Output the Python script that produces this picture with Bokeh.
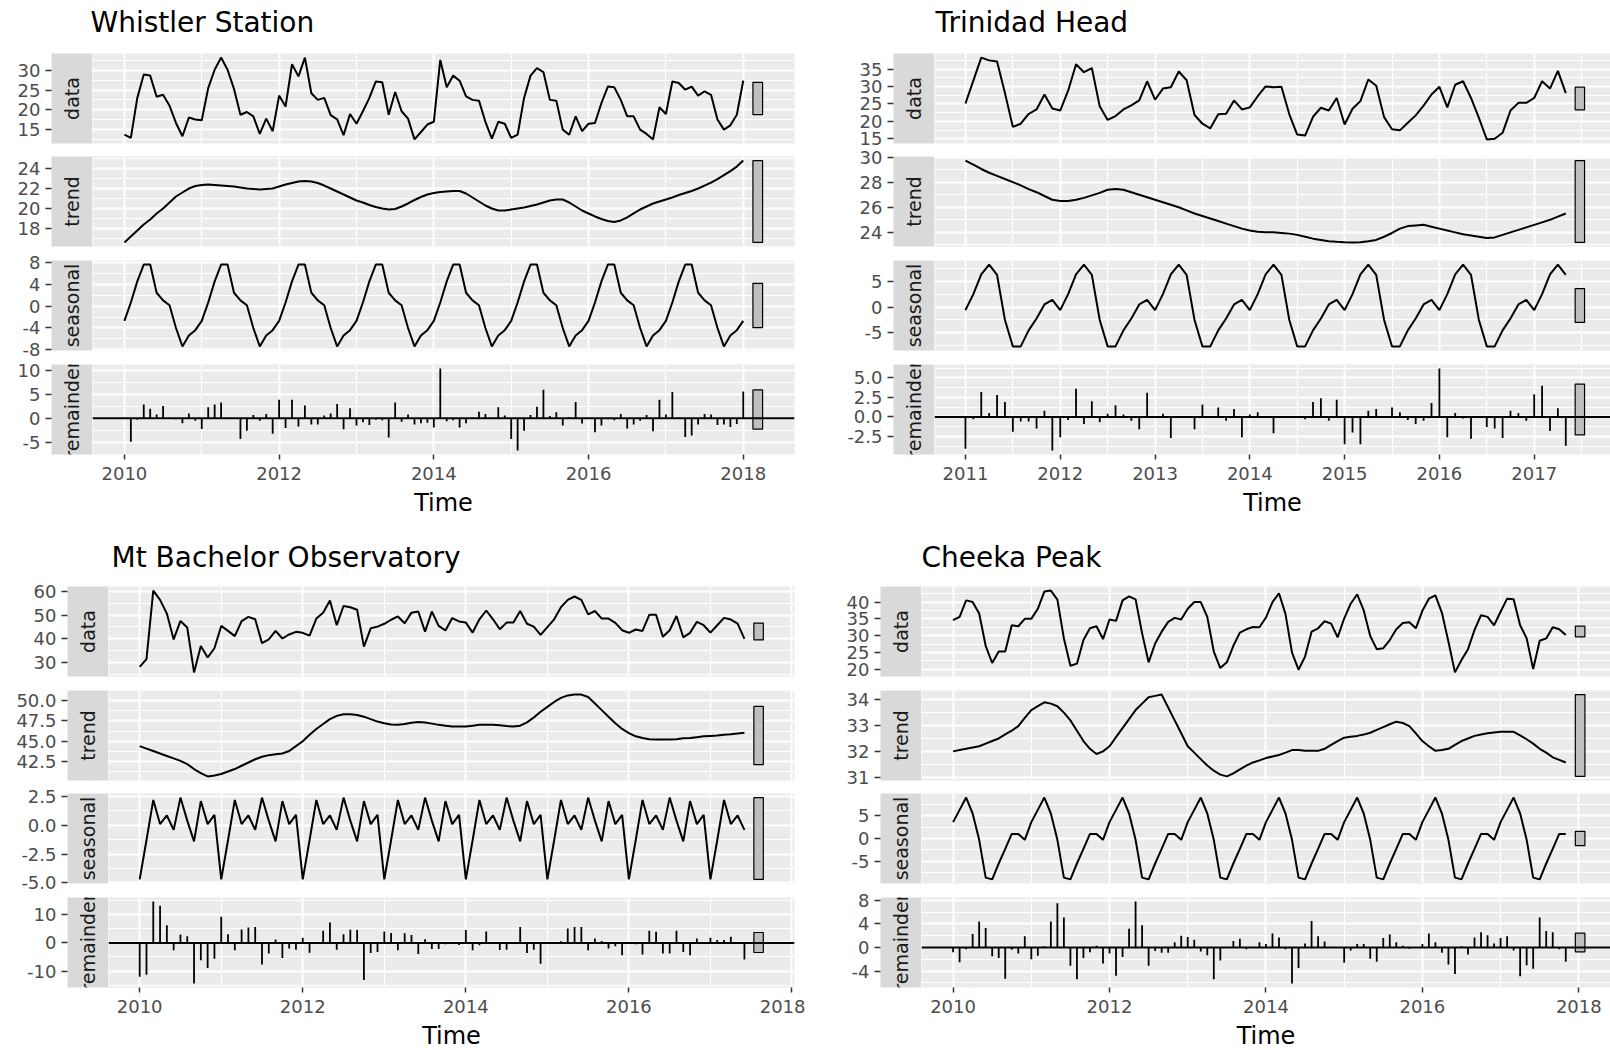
import numpy as np
from math import pi
from bokeh.plotting import figure
from bokeh.layouts import row, column
from bokeh.models import Range1d, FixedTicker, Grid, Span, PrintfTickFormatter
from bokeh.core.properties import value
from bokeh.embed import file_html
from bokeh.resources import INLINE

FONT = "DejaVu Sans"
PANEL_BG = "#EBEBEB"
STRIP_BG = "#D9D9D9"
COMPONENTS = ["data", "trend", "seasonal", "remainder"]

# ---------------- Whistler Station (monthly, Jan 2010 - Jan 2018) ----------------
whistler_start = 2010.0
whistler_data = [
    13.6, 12.8, 23.0, 29.0, 28.7, 23.3, 23.8, 21.0, 16.6, 13.2, 18.0, 17.5,
    17.3, 25.5, 30.2, 33.3, 30.2, 25.3, 18.7, 19.4, 18.3, 13.8, 17.7, 14.5,
    23.6, 20.8, 31.6, 28.5, 33.3, 24.2, 22.5, 23.0, 18.6, 17.5, 13.5, 18.9,
    16.4, 19.6, 23.0, 27.2, 27.0, 18.7, 24.5, 19.6, 17.7, 12.4, 14.3, 16.2,
    16.9, 32.7, 25.7, 28.7, 27.4, 23.4, 22.5, 22.3, 16.9, 12.6, 16.9, 16.4,
    12.8, 13.6, 23.0, 28.7, 30.6, 29.6, 22.5, 22.3, 14.9, 13.6, 18.3, 14.5,
    16.4, 16.6, 21.7, 25.9, 25.7, 22.5, 18.3, 18.3, 14.9, 13.8, 12.4, 20.6,
    18.9, 27.2, 26.8, 25.1, 25.9, 23.6, 24.7, 23.8, 17.5, 14.9, 16.0, 18.7,
    27.4]
whistler_trend = [
    16.6, 17.2, 17.8, 18.4, 18.9, 19.5, 20.0, 20.6, 21.2, 21.6, 22.0, 22.25,
    22.35, 22.4, 22.35, 22.3, 22.25, 22.2, 22.1, 22.0, 21.95, 21.9, 21.95, 22.0,
    22.2, 22.4, 22.55, 22.7, 22.75, 22.7, 22.55, 22.3, 22.0, 21.7, 21.4, 21.1,
    20.8, 20.6, 20.35, 20.15, 20.0, 19.9, 19.95, 20.2, 20.5, 20.85, 21.15, 21.4,
    21.55, 21.65, 21.7, 21.75, 21.75, 21.5, 21.1, 20.7, 20.3, 20.0, 19.8, 19.8,
    19.9, 20.0, 20.1, 20.25, 20.4, 20.6, 20.8, 20.9, 20.9, 20.6, 20.2, 19.8,
    19.5, 19.2, 18.95, 18.75, 18.65, 18.8, 19.1, 19.5, 19.9, 20.2, 20.5, 20.7,
    20.9, 21.1, 21.35, 21.55, 21.75, 22.0, 22.3, 22.6, 22.95, 23.35, 23.75, 24.2,
    24.8]
whistler_seasonal = [
    -2.7, 0.7, 4.6, 7.7, 7.7, 2.5, 1.1, 0.2, -4.0, -7.4, -5.4, -4.4,
    -2.7, 0.7, 4.6, 7.7, 7.7, 2.5, 1.1, 0.2, -4.0, -7.4, -5.4, -4.4,
    -2.7, 0.7, 4.6, 7.7, 7.7, 2.5, 1.1, 0.2, -4.0, -7.4, -5.4, -4.4,
    -2.7, 0.7, 4.6, 7.7, 7.7, 2.5, 1.1, 0.2, -4.0, -7.4, -5.4, -4.4,
    -2.7, 0.7, 4.6, 7.7, 7.7, 2.5, 1.1, 0.2, -4.0, -7.4, -5.4, -4.4,
    -2.7, 0.7, 4.6, 7.7, 7.7, 2.5, 1.1, 0.2, -4.0, -7.4, -5.4, -4.4,
    -2.7, 0.7, 4.6, 7.7, 7.7, 2.5, 1.1, 0.2, -4.0, -7.4, -5.4, -4.4,
    -2.7, 0.7, 4.6, 7.7, 7.7, 2.5, 1.1, 0.2, -4.0, -7.4, -5.4, -4.4,
    -2.7]
whistler_remainder = [
    0.1, -4.9, -0.3, 2.9, 2.0, 0.8, 2.6, 0.1, -0.2, -1.0, 1.0, -0.5,
    -2.2, 2.3, 2.9, 3.3, 0.1, 0.0, -4.3, -2.6, 0.7, -0.5, 0.9, -3.2,
    3.9, -2.0, 3.9, -1.7, 2.7, -1.3, -1.3, 0.6, 1.0, 3.0, -2.3, 2.1,
    -1.5, -0.8, -1.4, -0.3, -0.4, -4.0, 3.3, -0.7, 0.8, -1.3, -1.0, -0.9,
    -1.9, 10.4, -0.6, -0.4, -1.9, -1.0, 0.2, 1.4, 0.9, 0.1, 2.3, 0.6,
    -4.3, -6.7, -2.6, 0.7, 2.4, 6.0, 0.5, 1.3, -1.5, 0.3, 3.4, -1.1,
    0.1, -2.9, -1.5, -0.2, -0.4, 0.9, -2.1, -1.3, -0.5, 0.7, -2.7, 3.9,
    0.8, 5.5, 0.2, -3.9, -3.6, -1.3, 0.9, 0.8, -1.4, -1.3, -1.8, -1.2,
    5.6]
whistler_yticks = [[15, 20, 25, 30], [18, 20, 22, 24], [-8, -4, 0, 4, 8], [-5, 0, 5, 10]]
whistler_yfmt = ["%d", "%d", "%d", "%d"]
whistler_xticks = [2010, 2012, 2014, 2016, 2018]

# ---------------- Trinidad Head (monthly, Jan 2011 - May 2017) ----------------
trinidad_start = 2011.0
trinidad_data = [
    25.1, 31.7, 38.3, 37.5, 37.2, 28.1, 18.4, 19.3, 22.1, 23.4, 27.7, 23.7,
    23.1, 28.8, 36.4, 34.1, 35.3, 24.3, 20.4, 21.5, 23.4, 24.6, 26.0, 31.5,
    26.2, 29.4, 29.8, 34.3, 31.8, 21.8, 19.3, 18.0, 22.0, 22.2, 26.0, 23.4,
    24.0, 27.2, 30.0, 29.8, 29.9, 22.0, 16.2, 15.9, 21.3, 23.9, 23.1, 26.7,
    19.1, 23.6, 25.8, 32.0, 30.2, 21.2, 17.7, 17.4, 19.6, 21.7, 24.5, 27.7,
    29.9, 24.0, 30.5, 31.5, 26.7, 21.0, 14.8, 15.0, 16.7, 23.1, 25.3, 25.3,
    26.7, 31.5, 29.4, 34.5, 28.1]
trinidad_trend = [
    29.72, 29.4, 29.05, 28.75, 28.5, 28.25, 28.0, 27.75, 27.45, 27.2, 26.9, 26.6,
    26.5, 26.5, 26.6, 26.75, 26.95, 27.15, 27.4, 27.45, 27.4, 27.2, 27.0, 26.8,
    26.6, 26.4, 26.2, 26.0, 25.75, 25.5, 25.3, 25.1, 24.9, 24.7, 24.5, 24.3,
    24.15, 24.05, 24.0, 24.0, 23.95, 23.9, 23.8, 23.65, 23.5, 23.4, 23.3, 23.25,
    23.22, 23.2, 23.22, 23.3, 23.4, 23.65, 23.95, 24.3, 24.5, 24.55, 24.6, 24.45,
    24.3, 24.15, 24.0, 23.85, 23.75, 23.65, 23.55, 23.6, 23.8, 24.0, 24.2, 24.4,
    24.6, 24.8, 25.0, 25.25, 25.5]
trinidad_seasonal = [
    -0.6, 2.5, 6.3, 8.2, 6.2, -2.5, -7.6, -7.6, -4.5, -2.2, 0.5, 1.4,
    -0.6, 2.5, 6.3, 8.2, 6.2, -2.5, -7.6, -7.6, -4.5, -2.2, 0.5, 1.4,
    -0.6, 2.5, 6.3, 8.2, 6.2, -2.5, -7.6, -7.6, -4.5, -2.2, 0.5, 1.4,
    -0.6, 2.5, 6.3, 8.2, 6.2, -2.5, -7.6, -7.6, -4.5, -2.2, 0.5, 1.4,
    -0.6, 2.5, 6.3, 8.2, 6.2, -2.5, -7.6, -7.6, -4.5, -2.2, 0.5, 1.4,
    -0.6, 2.5, 6.3, 8.2, 6.2, -2.5, -7.6, -7.6, -4.5, -2.2, 0.5, 1.4,
    -0.6, 2.5, 6.3, 8.2, 6.2]
trinidad_remainder = [
    -4.1, -0.3, 3.2, 0.5, 2.8, 1.9, -1.9, -0.6, -0.6, -1.5, 0.8, -4.3,
    -2.6, -0.4, 3.6, -0.9, 2.0, -0.7, 0.4, 1.5, 0.3, -0.5, -1.6, 3.1,
    0.0, 0.4, -2.7, 0.1, 0.0, -1.6, 1.6, 0.1, 1.2, -0.5, 1.0, -2.6,
    0.3, 0.6, 0.0, -2.1, 0.0, 0.0, 0.1, -0.3, 1.9, 2.4, -0.5, 2.2,
    -3.5, -2.0, -3.5, 0.8, 1.0, 0.0, 1.2, 0.6, -0.4, -0.9, -0.5, 1.8,
    6.2, -2.6, 0.5, -0.2, -2.8, 0.0, -1.3, -1.5, -2.7, 0.8, 0.5, -0.5,
    2.9, 4.0, -1.8, 1.1, -3.7]
trinidad_yticks = [[15, 20, 25, 30, 35], [24, 26, 28, 30], [-5, 0, 5], [-2.5, 0.0, 2.5, 5.0]]
trinidad_yfmt = ["%d", "%d", "%d", "%.1f"]
trinidad_xticks = [2011, 2012, 2013, 2014, 2015, 2016, 2017]

# ---------------- Mt Bachelor Observatory (monthly, Jan 2010 - Jun 2017) ----------------
bachelor_start = 2010.0
bachelor_data = [
    28.1, 31.4, 60.3, 56.4, 50.6, 39.7, 47.5, 44.7, 25.8, 36.9, 32.1, 36.0,
    45.4, 43.3, 41.1, 47.4, 49.2, 48.2, 38.1, 39.7, 43.3, 40.1, 41.8, 42.9,
    42.5, 41.3, 48.5, 51.0, 56.1, 45.7, 53.8, 53.3, 52.2, 36.7, 44.4, 45.1,
    46.3, 48.0, 49.4, 46.5, 51.0, 51.5, 43.0, 51.5, 45.4, 43.5, 48.7, 47.3,
    46.8, 42.6, 48.2, 51.9, 48.2, 44.0, 46.8, 46.8, 51.7, 46.3, 45.1, 41.6,
    44.9, 48.2, 53.3, 56.4, 57.8, 56.4, 50.3, 51.7, 48.5, 48.5, 46.7, 43.6,
    42.5, 43.9, 43.3, 50.1, 50.1, 40.8, 43.6, 49.6, 40.6, 42.5, 47.1, 45.7,
    42.6, 45.7, 48.8, 48.1, 46.4, 39.9]
bachelor_trend = [
    44.4, 44.1, 43.8, 43.5, 43.2, 42.9, 42.6, 42.2, 41.6, 41.1, 40.7, 40.8,
    41.0, 41.3, 41.6, 42.0, 42.4, 42.8, 43.1, 43.3, 43.4, 43.5, 43.8, 44.4,
    45.0, 45.8, 46.5, 47.1, 47.7, 48.1, 48.3, 48.3, 48.2, 48.0, 47.7, 47.4,
    47.2, 47.05, 47.0, 47.1, 47.25, 47.35, 47.3, 47.15, 47.0, 46.9, 46.8, 46.8,
    46.8, 46.9, 47.0, 47.0, 47.0, 46.95, 46.85, 46.8, 46.9, 47.3, 47.9, 48.6,
    49.2, 49.8, 50.3, 50.6, 50.7, 50.7, 50.4, 49.6, 48.8, 48.0, 47.2, 46.5,
    46.0, 45.6, 45.4, 45.25, 45.2, 45.2, 45.2, 45.25, 45.35, 45.4, 45.5, 45.6,
    45.65, 45.7, 45.8, 45.85, 45.95, 46.05]
bachelor_seasonal = [
    -4.7, -1.3, 2.2, 0.1, 0.85, -0.4, 2.4, 0.4, -1.4, 2.1, 0.1, 0.9,
    -4.7, -1.3, 2.2, 0.1, 0.85, -0.4, 2.4, 0.4, -1.4, 2.1, 0.1, 0.9,
    -4.7, -1.3, 2.2, 0.1, 0.85, -0.4, 2.4, 0.4, -1.4, 2.1, 0.1, 0.9,
    -4.7, -1.3, 2.2, 0.1, 0.85, -0.4, 2.4, 0.4, -1.4, 2.1, 0.1, 0.9,
    -4.7, -1.3, 2.2, 0.1, 0.85, -0.4, 2.4, 0.4, -1.4, 2.1, 0.1, 0.9,
    -4.7, -1.3, 2.2, 0.1, 0.85, -0.4, 2.4, 0.4, -1.4, 2.1, 0.1, 0.9,
    -4.7, -1.3, 2.2, 0.1, 0.85, -0.4, 2.4, 0.4, -1.4, 2.1, 0.1, 0.9,
    -4.7, -1.3, 2.2, 0.1, 0.85, -0.4]
bachelor_remainder = [
    -12.0, -11.3, 14.7, 13.2, 6.3, -2.6, 3.0, 2.4, -14.4, -6.2, -8.9, -5.6,
    9.3, 3.1, -2.6, 4.8, 5.5, 5.7, -7.7, -3.8, 1.2, -5.4, -2.0, -2.4,
    1.8, -3.5, 0.2, 4.3, 7.3, -2.4, 3.1, 4.7, 4.6, -13.2, -3.6, -3.2,
    4.1, 3.5, -2.6, 3.4, 2.8, -3.9, 1.3, -2.2, -2.2, -0.5, 0.3, -0.7,
    4.6, -2.6, -0.8, 4.1, 0.2, -2.5, -2.4, 0.3, 5.7, -3.6, -2.4, -7.4,
    -0.2, 0.2, 0.6, 5.1, 5.7, 5.7, -2.6, 1.6, 0.7, -2.0, -1.2, -4.4,
    -0.2, -0.5, -4.1, 4.3, 4.0, -3.8, -3.8, 4.3, -3.2, -4.4, 1.6, 0.0,
    1.8, 1.0, 1.0, 2.2, 0.0, -5.9]
bachelor_yticks = [[30, 40, 50, 60], [42.5, 45.0, 47.5, 50.0], [-5.0, -2.5, 0.0, 2.5], [-10, 0, 10]]
bachelor_yfmt = ["%d", "%.1f", "%.1f", "%d"]
bachelor_xticks = [2010, 2012, 2014, 2016, 2018]

# ---------------- Cheeka Peak (monthly, Jan 2010 - Nov 2017) ----------------
cheeka_start = 2010.0
cheeka_data = [
    34.6, 35.6, 40.5, 40.0, 36.6, 27.0, 21.9, 25.3, 25.3, 33.1, 32.8, 35.0,
    35.0, 38.0, 43.1, 43.4, 40.7, 29.2, 21.1, 21.7, 28.7, 32.2, 32.8, 29.0,
    34.8, 34.4, 40.5, 41.7, 40.8, 30.7, 22.1, 27.7, 31.2, 34.1, 35.3, 34.8,
    38.0, 40.0, 40.0, 35.6, 25.3, 20.4, 22.1, 27.0, 30.9, 31.9, 32.6, 32.5,
    35.4, 40.0, 42.6, 36.4, 25.0, 19.9, 23.8, 31.2, 32.2, 34.3, 33.6, 29.5,
    35.1, 39.5, 42.3, 37.5, 29.9, 26.0, 26.3, 28.7, 31.9, 33.8, 34.0, 32.2,
    37.4, 41.0, 42.0, 36.8, 28.2, 19.1, 22.8, 26.0, 31.7, 36.1, 35.6, 33.1,
    37.1, 41.0, 40.8, 33.1, 29.2, 20.1, 28.5, 29.2, 32.5, 31.9, 30.2]
cheeka_trend = [
    32.0, 32.05, 32.1, 32.15, 32.2, 32.3, 32.4, 32.5, 32.66, 32.8, 32.98, 33.3,
    33.6, 33.75, 33.9, 33.85, 33.75, 33.5, 33.2, 32.8, 32.4, 32.1, 31.9, 32.0,
    32.2, 32.55, 32.9, 33.25, 33.6, 33.85, 34.1, 34.15, 34.2, 33.7, 33.2, 32.7,
    32.2, 31.95, 31.7, 31.45, 31.25, 31.1, 31.03, 31.15, 31.3, 31.45, 31.57, 31.65,
    31.74, 31.8, 31.86, 31.95, 32.05, 32.05, 32.02, 32.02, 32.02, 32.1, 32.25, 32.4,
    32.53, 32.57, 32.6, 32.65, 32.72, 32.83, 32.94, 33.05, 33.15, 33.1, 32.98, 32.7,
    32.4, 32.2, 32.02, 32.05, 32.1, 32.25, 32.4, 32.5, 32.6, 32.65, 32.7, 32.73,
    32.76, 32.76, 32.76, 32.62, 32.47, 32.3, 32.1, 31.95, 31.77, 31.67, 31.57]
cheeka_seasonal = [
    3.6, 6.3, 9.0, 5.5, -0.3, -8.6, -9.0, -5.5, -2.3, 1.0, 1.0, -0.3,
    3.6, 6.3, 9.0, 5.5, -0.3, -8.6, -9.0, -5.5, -2.3, 1.0, 1.0, -0.3,
    3.6, 6.3, 9.0, 5.5, -0.3, -8.6, -9.0, -5.5, -2.3, 1.0, 1.0, -0.3,
    3.6, 6.3, 9.0, 5.5, -0.3, -8.6, -9.0, -5.5, -2.3, 1.0, 1.0, -0.3,
    3.6, 6.3, 9.0, 5.5, -0.3, -8.6, -9.0, -5.5, -2.3, 1.0, 1.0, -0.3,
    3.6, 6.3, 9.0, 5.5, -0.3, -8.6, -9.0, -5.5, -2.3, 1.0, 1.0, -0.3,
    3.6, 6.3, 9.0, 5.5, -0.3, -8.6, -9.0, -5.5, -2.3, 1.0, 1.0, -0.3,
    3.6, 6.3, 9.0, 5.5, -0.3, -8.6, -9.0, -5.5, -2.3, 1.0, 1.0]
cheeka_remainder = [
    -0.8, -2.5, -0.3, 2.3, 4.4, 3.3, -1.5, -1.8, -5.3, -0.4, -1.0, 1.9,
    -2.0, -1.4, 0.2, 4.4, 7.5, 5.1, -3.1, -5.4, -1.8, -0.8, 0.3, -2.7,
    -1.0, -4.8, -1.6, 3.2, 7.8, 3.8, -3.1, -0.6, -0.9, -0.9, 0.9, 2.0,
    1.8, 1.3, -0.7, -1.3, -5.4, -2.2, 0.0, 1.1, 1.5, -0.3, 0.0, 0.9,
    0.6, 2.4, 1.7, -0.3, -6.1, -3.5, 0.7, 4.5, 1.9, 1.0, 0.0, 0.1,
    -2.6, -0.5, 0.6, 0.6, -1.9, -2.4, 1.6, 2.2, 0.9, 0.3, -0.2, 0.0,
    0.6, 2.4, 0.9, -0.9, -2.9, -4.5, 0.2, -1.2, 1.7, 2.6, 2.1, 0.7,
    1.6, 1.9, -0.5, -4.9, -3.0, -3.6, 5.1, 2.8, 2.6, -0.3, -2.4]
cheeka_yticks = [[20, 25, 30, 35, 40], [31, 32, 33, 34], [-5, 0, 5], [-4, 0, 4, 8]]
cheeka_yfmt = ["%d", "%d", "%d", "%d"]
cheeka_xticks = [2010, 2012, 2014, 2016, 2018]

# ---------------- styling / layout ----------------
STRIP_W = 41
PANEL_H = 90
HEAD_H = 53          # block top -> first panel top
TICK_FONT = "18px"
LABEL_HALF = 11      # half height of a tick label box
STRIP_FONT = "19px"
TITLE_FONT = "28px"
AXIS_TITLE_FONT = "24px"


def minor_of(ticks):
    step = ticks[1] - ticks[0]
    return [ticks[0] - step / 2] + [v + step / 2 for v in ticks]


def station(name, start, comps, yticks, yfmts, xticks, L, W, R, gaps, tail,
            cut_px, title_x, title_mid):
    n = len(comps[0])
    t = start + np.arange(n) / 12.0
    xmax = float(t[-1])
    bw = (xmax - start) / 64.0
    bar_left, bar_right = xmax + bw, xmax + 2 * bw
    ext = 0.05 * (bar_right - start)
    lo, hi = start - ext, bar_right + ext
    if cut_px:
        hi = lo + (hi - lo) * W / (W + cut_px)
    xr = Range1d(lo, hi)
    xminor = minor_of(xticks)
    lows = [min(c) for c in comps]
    highs = [max(c) for c in comps]
    barlen = min(h - l for l, h in zip(lows, highs))

    # y ranges and the room that edge tick labels need outside each panel
    yranges, need_top, need_bot = [], [], []
    for i in range(4):
        pad = 0.05 * (highs[i] - lows[i])
        y0, y1 = lows[i] - pad, highs[i] + pad
        yranges.append(Range1d(y0, y1))
        d_top = (y1 - max(yticks[i])) / (y1 - y0) * PANEL_H
        d_bot = (min(yticks[i]) - y0) / (y1 - y0) * PANEL_H
        need_top.append(max(0.0, LABEL_HALF - d_top))
        need_bot.append(max(0.0, LABEL_HALF - d_bot))

    b_top = [0] * 4
    b_bot = [0] * 4
    b_top[0] = int(np.ceil(max(7, need_top[0])))
    for j, g in enumerate(gaps):
        nb, nt = need_bot[j], need_top[j + 1]
        if nb + nt <= g:
            bb = min(max(g / 2.0, nb), g - nt)
        else:
            bb = g * nb / (nb + nt)
        bb = int(round(bb))
        b_bot[j] = bb
        b_top[j + 1] = g - bb
    b_bot[3] = tail

    total_w = L + STRIP_W + W + R
    title_h = HEAD_H - b_top[0]
    tf = figure(frame_width=total_w, frame_height=title_h,
                x_range=Range1d(0, total_w), y_range=Range1d(0, title_h),
                x_axis_location=None, y_axis_location=None,
                toolbar_location=None, output_backend="svg",
                min_border=0, outline_line_color=None)
    tf.grid.visible = False
    tf.text(x=[title_x], y=[title_h - title_mid], text=[name],
            text_font=value(FONT), text_font_size=TITLE_FONT,
            text_baseline="middle", text_align="left", text_color="black")
    items = [tf]

    for i, (lab, vals) in enumerate(zip(COMPONENTS, comps)):
        last = i == 3
        yr = yranges[i]
        top, bot = b_top[i], b_bot[i]

        sf = figure(frame_width=STRIP_W, frame_height=PANEL_H,
                    x_range=Range1d(0, 1), y_range=yr,
                    x_axis_location=None, y_axis_location="left",
                    toolbar_location=None, output_backend="svg",
                    min_border=0, min_border_left=L, min_border_right=0,
                    min_border_top=top, min_border_bottom=bot,
                    background_fill_color=STRIP_BG, outline_line_color=None)
        sf.grid.visible = False
        ax = sf.yaxis[0]
        ax.ticker = FixedTicker(ticks=yticks[i])
        ax.formatter = PrintfTickFormatter(format=yfmts[i])
        ax.axis_line_color = None
        ax.major_tick_in = 0
        ax.major_tick_out = 6
        ax.major_tick_line_color = "#333333"
        ax.major_tick_line_width = 1.5
        ax.minor_tick_line_color = None
        ax.major_label_standoff = 5
        ax.major_label_text_font = FONT
        ax.major_label_text_font_size = TICK_FONT
        ax.major_label_text_color = "#4D4D4D"
        sf.text(x=[0.5], y=[(yr.start + yr.end) / 2], text=[lab], angle=pi / 2,
                text_align="center", text_baseline="middle",
                text_font=value(FONT), text_font_size=STRIP_FONT,
                text_color="#1A1A1A")

        mf = figure(frame_width=W, frame_height=PANEL_H, x_range=xr, y_range=yr,
                    x_axis_location="below" if last else None,
                    y_axis_location=None,
                    toolbar_location=None, output_backend="svg",
                    min_border=0, min_border_left=0, min_border_right=R,
                    min_border_top=top, min_border_bottom=bot,
                    background_fill_color=PANEL_BG, outline_line_color=None)
        mf.grid.visible = False
        mf.add_layout(Grid(dimension=0,
                           ticker=FixedTicker(ticks=xticks, minor_ticks=xminor),
                           grid_line_color="white", grid_line_width=2,
                           minor_grid_line_color="white", minor_grid_line_width=1))
        mf.add_layout(Grid(dimension=1,
                           ticker=FixedTicker(ticks=yticks[i],
                                              minor_ticks=minor_of(yticks[i])),
                           grid_line_color="white", grid_line_width=2,
                           minor_grid_line_color="white", minor_grid_line_width=1))
        if last:
            mf.add_layout(Span(location=0, dimension="width",
                               line_color="black", line_width=2))
            mf.segment(x0=t, y0=np.zeros(n), x1=t, y1=vals,
                       line_color="black", line_width=1.8)
            xa = mf.xaxis[0]
            xa.ticker = FixedTicker(ticks=xticks)
            xa.formatter = PrintfTickFormatter(format="%d")
            xa.axis_line_color = None
            xa.major_tick_in = 0
            xa.major_tick_out = 5
            xa.major_tick_line_color = "#333333"
            xa.major_tick_line_width = 1.5
            xa.minor_tick_line_color = None
            xa.major_label_standoff = 7
            xa.major_label_text_font = FONT
            xa.major_label_text_font_size = TICK_FONT
            xa.major_label_text_color = "#4D4D4D"
            xa.axis_label = "Time"
            xa.axis_label_standoff = 6
            xa.axis_label_text_font = FONT
            xa.axis_label_text_font_size = AXIS_TITLE_FONT
            xa.axis_label_text_font_style = "normal"
            xa.axis_label_text_color = "black"
        else:
            mf.line(t, vals, line_color="black", line_width=2)
        mid = (lows[i] + highs[i]) / 2
        mf.quad(left=[bar_left], right=[bar_right],
                bottom=[mid - barlen / 2], top=[mid + barlen / 2],
                fill_color="#BFBFBF", line_color="black", line_width=1.2)
        items.append(row(sf, mf))
    return column(*items)


top_gaps, top_tail = [13, 14, 14], 79
bottom_gaps, bottom_tail = [14, 13, 14], 63

tl = station("Whistler Station", whistler_start,
             [whistler_data, whistler_trend, whistler_seasonal, whistler_remainder],
             whistler_yticks, whistler_yfmt, whistler_xticks,
             L=51, W=702, R=11, gaps=top_gaps, tail=top_tail, cut_px=0,
             title_x=90, title_mid=22)
tr = station("Trinidad Head", trinidad_start,
             [trinidad_data, trinidad_trend, trinidad_seasonal, trinidad_remainder],
             trinidad_yticks, trinidad_yfmt, trinidad_xticks,
             L=88, W=676, R=0, gaps=top_gaps, tail=top_tail, cut_px=5,
             title_x=130, title_mid=22)
bl = station("Mt Bachelor Observatory", bachelor_start,
             [bachelor_data, bachelor_trend, bachelor_seasonal, bachelor_remainder],
             bachelor_yticks, bachelor_yfmt, bachelor_xticks,
             L=67, W=686, R=11, gaps=bottom_gaps, tail=bottom_tail, cut_px=0,
             title_x=111, title_mid=23.5)
br = station("Cheeka Peak", cheeka_start,
             [cheeka_data, cheeka_trend, cheeka_seasonal, cheeka_remainder],
             cheeka_yticks, cheeka_yfmt, cheeka_xticks,
             L=75, W=689, R=0, gaps=bottom_gaps, tail=bottom_tail, cut_px=6,
             title_x=116, title_mid=23.5)

p = column(row(tl, tr), row(bl, br))

with open("out.html", "w") as f:
    f.write(file_html(p, INLINE))
